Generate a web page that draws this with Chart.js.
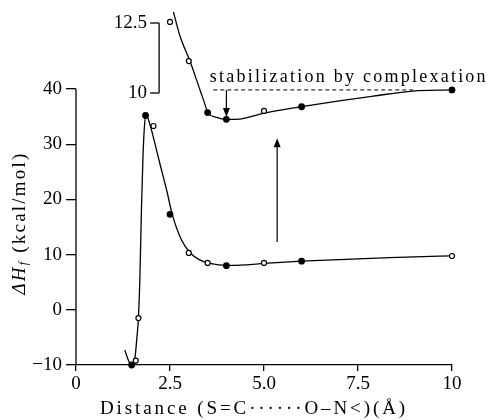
<!DOCTYPE html>
<html><head><meta charset="utf-8">
<script src="https://cdn.jsdelivr.net/npm/chart.js@4/dist/chart.umd.min.js"></script>
<style>html,body{margin:0;padding:0;background:#fff}#wrap{width:491px;height:420px}</style>
</head><body><div id="wrap"><canvas id="c" width="491" height="420"></canvas></div>
<script>
// ---- data ----
const xTicks = [0, 2.5, 5, 7.5, 10];
const xTickLabels = ['0', '2.5', '5.0', '7.5', '10'];
const yTicks = [-10, 0, 10, 20, 30, 40];
const yTickLabels = ['\u221210', '0', '10', '20', '30', '40'];
const insetTicks = [10, 12.5];
const insetTickLabels = ['10', '12.5'];

// lower curve (main ΔHf scale)
const lowerCurve = [[1.30,-7.3],[1.39,-9.1],[1.47,-10.1],[1.54,-9.6],[1.58,-8.0],[1.62,-5.0],[1.66,-1.5],[1.70,6],[1.74,18],[1.78,27.5],[1.82,33.2],[1.86,35.4],[1.93,34.4],[2.01,32.5],[2.23,26.5],[2.41,21.7],[2.56,17.3],[2.81,12.6],[3.04,10.3],[3.30,9.0],[3.56,8.4],[4.02,8.05],[4.5,8.15],[5.0,8.4],[6.0,8.8],[7.0,9.1],[8.0,9.35],[9.0,9.6],[10.0,9.78]];
const lowerFilled = [[1.48,-10],[1.85,35.2],[2.5,17.3],[4.0,8.0],[6.0,8.8]];
const lowerOpen = [[1.59,-9.2],[1.66,-1.5],[2.06,33.3],[3.0,10.3],[3.5,8.5],[5.0,8.5],[10.0,9.75]];

// upper curve (inset scale 10 .. 12.5)
const upperCurve = [[2.59,12.90],[2.77,12.02],[3.03,11.14],[3.30,10.1],[3.40,9.72],[3.50,9.32],[3.74,9.13],[4.0,9.06],[4.36,9.07],[5.0,9.28],[6.0,9.51],[7.0,9.72],[7.91,9.89],[8.97,10.07],[9.95,10.11]];
const upperFilled = [[3.5,9.30],[4.0,9.06],[6.0,9.51],[10.0,10.11]];
const upperOpen = [[2.5,12.54],[3.0,11.14],[5.0,9.36]];

// annotations
const stabLine = [[3.65,10.11],[9.0,10.11]];      // inset scale
const downArrow = [[4.0,10.11],[4.0,9.14]];        // inset scale
const upArrow = [[5.35,12.3],[5.35,31.1]];         // main scale
const stabText = 'stabilization by complexation';
const stabTextPos = [3.56, 10.39];                 // inset scale, baseline
const insetAxisX = 2.21;
const xTitle = 'Distance (S=C\u00B7\u00B7\u00B7\u00B7\u00B7\u00B7O\u2013N<)(\u00C5)';

const SERIF = '"Liberation Serif", "DejaVu Serif", serif';
const pts = a => a.map(([x, y]) => ({x, y}));

function arrow(ctx, x1, y1, x2, y2) {
  const ang = Math.atan2(y2 - y1, x2 - x1);
  const hl = 9, hw = 3.5;
  ctx.beginPath(); ctx.moveTo(x1, y1);
  ctx.lineTo(x2 - hl * Math.cos(ang), y2 - hl * Math.sin(ang)); ctx.stroke();
  ctx.beginPath(); ctx.moveTo(x2, y2);
  ctx.lineTo(x2 - hl * Math.cos(ang) + hw * Math.sin(ang), y2 - hl * Math.sin(ang) - hw * Math.cos(ang));
  ctx.lineTo(x2 - hl * Math.cos(ang) - hw * Math.sin(ang), y2 - hl * Math.sin(ang) + hw * Math.cos(ang));
  ctx.closePath(); ctx.fill();
}
function fitText(ctx, text, x, y, width, align) {
  ctx.letterSpacing = '0px';
  const w0 = ctx.measureText(text).width;
  const ls = Math.max(0, (width - w0) / text.length);
  ctx.letterSpacing = ls + 'px';
  const w = w0 + ls * text.length;
  const sx = align === 'center' ? x - w / 2 : x;
  ctx.textAlign = 'left';
  ctx.fillText(text, sx, y);
  ctx.letterSpacing = '0px';
}

const extras = {
  id: 'extras',
  afterDraw(chart) {
    const ctx = chart.ctx, sx = chart.scales.x, sy = chart.scales.y, s2 = chart.scales.y2;
    ctx.save();
    ctx.strokeStyle = '#000'; ctx.fillStyle = '#000'; ctx.lineWidth = 1.3;
    // main y axis line (from -10 up to 40 only)
    const yx = sx.getPixelForValue(0);
    ctx.beginPath();
    ctx.moveTo(yx, sy.getPixelForValue(yTicks[0]));
    ctx.lineTo(yx, sy.getPixelForValue(yTicks[yTicks.length - 1]));
    ctx.stroke();
    // inset axis
    const ax = sx.getPixelForValue(insetAxisX);
    ctx.beginPath();
    ctx.moveTo(ax, s2.getPixelForValue(insetTicks[0]));
    ctx.lineTo(ax, s2.getPixelForValue(insetTicks[insetTicks.length - 1]));
    ctx.stroke();
    ctx.font = '19px ' + SERIF; ctx.textAlign = 'right'; ctx.textBaseline = 'middle';
    insetTicks.forEach((v, i) => {
      const py = s2.getPixelForValue(v);
      ctx.beginPath(); ctx.moveTo(ax - 9, py); ctx.lineTo(ax, py); ctx.stroke();
      ctx.fillText(insetTickLabels[i], ax - 12, py);
    });
    // arrows
    ctx.lineWidth = 1.2;
    arrow(ctx, sx.getPixelForValue(downArrow[0][0]), s2.getPixelForValue(downArrow[0][1]),
               sx.getPixelForValue(downArrow[1][0]), s2.getPixelForValue(downArrow[1][1]));
    arrow(ctx, sx.getPixelForValue(upArrow[0][0]), sy.getPixelForValue(upArrow[0][1]),
               sx.getPixelForValue(upArrow[1][0]), sy.getPixelForValue(upArrow[1][1]));
    // annotation text
    ctx.font = '18px ' + SERIF; ctx.textBaseline = 'alphabetic';
    fitText(ctx, stabText, sx.getPixelForValue(stabTextPos[0]), s2.getPixelForValue(stabTextPos[1]), 278, 'left');
    // x title
    ctx.font = '19px ' + SERIF; ctx.textBaseline = 'middle';
    fitText(ctx, xTitle, 254, 409, 308, 'center');
    // y title
    ctx.translate(20, 223); ctx.rotate(-Math.PI / 2);
    const parts = [
      {t: '\u0394H', f: 'italic 19px ' + SERIF, dy: 0},
      {t: 'f', f: 'italic 12px ' + SERIF, dy: 4},
      {t: ' (kcal/mol)', f: '19px ' + SERIF, dy: 0}
    ];
    let total = 0;
    parts.forEach(p => { ctx.font = p.f; p.w = ctx.measureText(p.t).width; total += p.w; });
    const sp = Math.max(0, (143 - total) / 14);
    let cx = -(total + sp * 14) / 2;
    ctx.textAlign = 'left'; ctx.textBaseline = 'middle';
    parts.forEach(p => {
      ctx.font = p.f; ctx.letterSpacing = sp + 'px';
      ctx.fillText(p.t, cx, p.dy);
      cx += p.w + sp * p.t.length;
    });
    ctx.restore();
  }
};

const lineDs = (data, axis, extra) => Object.assign({data: pts(data), yAxisID: axis, showLine: true, pointRadius: 0,
  borderColor: '#000', borderWidth: 1.3, cubicInterpolationMode: 'monotone', clip: false}, extra || {});
const ptDs = (data, axis, filled) => ({data: pts(data), yAxisID: axis, showLine: false, pointRadius: filled ? 2.8 : 2.5,
  pointBackgroundColor: filled ? '#000' : '#fff', pointBorderColor: '#000', pointBorderWidth: 1.2, clip: false});

new Chart(document.getElementById('c'), {
  type: 'scatter',
  data: {datasets: [
    ptDs(lowerFilled, 'y', true), ptDs(lowerOpen, 'y', false),
    ptDs(upperFilled, 'y2', true), ptDs(upperOpen, 'y2', false),
    lineDs(lowerCurve, 'y'), lineDs(upperCurve, 'y2'),
    lineDs(stabLine, 'y2', {borderDash: [4, 3], borderWidth: 1, cubicInterpolationMode: 'default', tension: 0})
  ]},
  options: {
    responsive: false, animation: false, devicePixelRatio: 1,
    layout: {padding: {top: 8, right: 39, left: 0, bottom: 0}},
    plugins: {legend: {display: false}, tooltip: {enabled: false}},
    scales: {
      x: {type: 'linear', min: 0, max: 10, position: 'bottom',
        afterBuildTicks: s => { s.ticks = xTicks.map(v => ({value: v})); },
        afterFit: s => { s.height = 55; s.paddingLeft = 0; s.paddingRight = 0; },
        ticks: {callback: v => xTickLabels[xTicks.indexOf(v)], color: '#000', font: {family: SERIF, size: 19}, padding: 2, maxRotation: 0, autoSkip: false},
        grid: {drawOnChartArea: false, drawTicks: true, tickLength: 6, color: '#000', lineWidth: 1.3},
        border: {color: '#000', width: 1.3}},
      y: {type: 'linear', min: -10, max: 54.674, position: 'left',
        afterBuildTicks: s => { s.ticks = yTicks.map(v => ({value: v})); },
        afterFit: s => { s.width = 76; s.paddingTop = 0; s.paddingBottom = 0; },
        ticks: {callback: v => yTickLabels[yTicks.indexOf(v)], color: '#000', font: {family: SERIF, size: 19}, padding: 4, autoSkip: false},
        grid: {drawOnChartArea: false, drawTicks: true, tickLength: 10, color: '#000', lineWidth: 1.3},
        border: {display: false}},
      y2: {type: 'linear', display: false, min: 0.286, max: 13.036}
    }
  },
  plugins: [extras]
});
</script></body></html>
